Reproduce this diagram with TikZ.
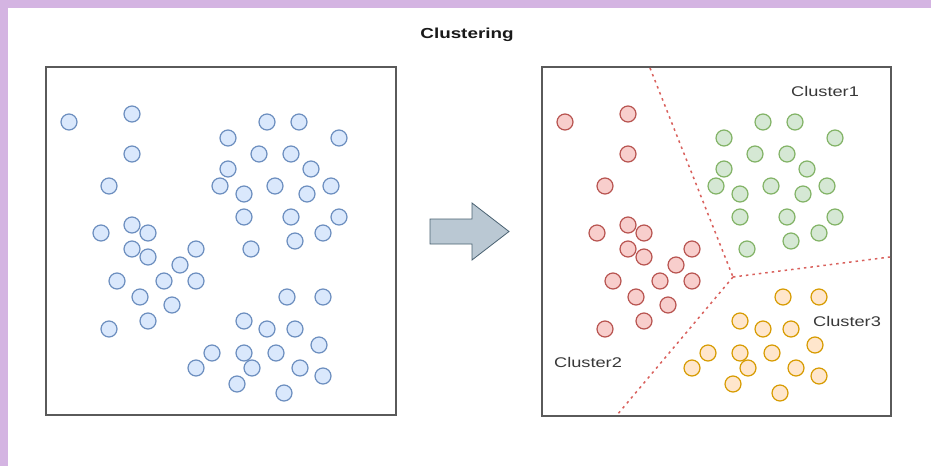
\documentclass[tikz,border=0pt]{standalone}
\usepackage{fontspec}
\setmainfont{Liberation Sans}
\newfontfamily\lblfont[FakeStretch=1.3]{Liberation Sans}
\definecolor{frameband}{HTML}{D4B4E2}
\definecolor{boxline}{HTML}{5A5A5A}
\definecolor{ptblueF}{HTML}{DAE8FC}\definecolor{ptblueD}{HTML}{6C8EBF}
\definecolor{ptredF}{HTML}{F8CECC}\definecolor{ptredD}{HTML}{B85450}
\definecolor{ptgreenF}{HTML}{D5E8D4}\definecolor{ptgreenD}{HTML}{82B366}
\definecolor{ptorangeF}{HTML}{FFE6CC}\definecolor{ptorangeD}{HTML}{D79B00}
\definecolor{arrowF}{HTML}{BAC8D3}\definecolor{arrowD}{HTML}{4A6272}
\definecolor{splitline}{HTML}{D9605C}
\tikzset{
  panel/.style={draw=boxline, line width=1.4pt, fill=white},
  label/.style={font=\lblfont\fontsize{14}{16}\selectfont, text=black!78, inner sep=0pt},
  titletext/.style={font=\lblfont\bfseries\fontsize{14.5}{16}\selectfont, text=black!90, inner sep=0pt},
  divider/.style={draw=splitline, line width=1.5pt, dash pattern=on 2.5pt off 4pt},
}
% point sets of the three groups (left panel coordinates)
\def\groupTwo{69/122, 132/114, 132/154, 109/186, 101/233, 132/225, 148/233, 132/249,
  148/257, 196/249, 180/265, 164/281, 196/281, 117/281, 140/297, 172/305, 148/321, 109/329}
\def\groupOne{228/138, 267/122, 299/122, 339/138, 259/154, 291/154, 228/169, 220/186,
  244/194, 275/186, 311/169, 307/194, 331/186, 244/217, 291/217, 339/217, 323/233, 295/241, 251/249}
\def\groupThree{287/297, 323/297, 244/321, 267/329, 295/329, 319/345, 212/353, 244/353,
  276/353, 196/368, 252/368, 300/368, 323/376, 237/384, 284/393}
% \drawdots{x offset}{list}{fill}{stroke}
\newcommand\drawdots[4]{%
  \foreach \px/\py in #2 {
    \filldraw[fill=#3, draw=#4, line width=1.2pt] (\px+#1, \py) circle (8);
  }}
\begin{document}
\begin{tikzpicture}[x=1pt, y=-1pt]
  \useasboundingbox (0,0) rectangle (931,466);
  \fill[white] (0,0) rectangle (931,466);
  % lavender frame bands
  \fill[frameband] (0,0) rectangle (931,8);
  \fill[frameband] (0,0) rectangle (8,466);

  \node[titletext] (title) at (467,35) {Clustering};

  % left panel: unlabelled data
  \draw[panel] (46,67) rectangle (396,415);
  \drawdots{0}{\groupTwo}{ptblueF}{ptblueD}
  \drawdots{0}{\groupOne}{ptblueF}{ptblueD}
  \drawdots{0}{\groupThree}{ptblueF}{ptblueD}

  % transition arrow
  \filldraw[fill=arrowF, draw=arrowD, line width=0.8pt, line join=miter]
    (430,219) -- (472,219) -- (472,203) -- (509,231.5) -- (472,260) -- (472,244) -- (430,244) -- cycle;

  % right panel: clustered data
  \draw[panel] (542,67) rectangle (891,416);
  \coordinate (splitTop) at (650,68);
  \coordinate (splitMid) at (733,277);
  \coordinate (splitRight) at (890,257);
  \coordinate (splitBottom) at (617,415);
  \draw[divider] (splitTop) -- (splitMid);
  \draw[divider] (splitMid) -- (splitRight);
  \draw[divider] (splitMid) -- (splitBottom);
  \drawdots{496}{\groupTwo}{ptredF}{ptredD}
  \drawdots{496}{\groupOne}{ptgreenF}{ptgreenD}
  \drawdots{496}{\groupThree}{ptorangeF}{ptorangeD}

  \node[label] (c1) at (825,91) {Cluster1};
  \node[label] (c2) at (588,362) {Cluster2};
  \node[label] (c3) at (847,321) {Cluster3};
\end{tikzpicture}
\end{document}
